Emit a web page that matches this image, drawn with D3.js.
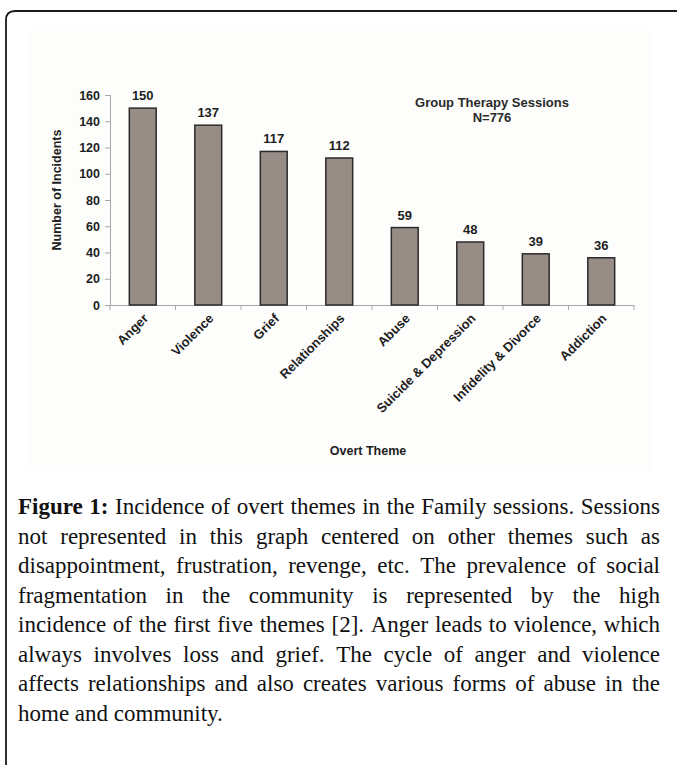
<!DOCTYPE html>
<html>
<head>
<meta charset="utf-8">
<script src="https://cdn.jsdelivr.net/npm/d3@7"></script>
<style>
  html, body { margin: 0; padding: 0; background: #ffffff; }
  svg { display: block; }
</style>
</head>
<body>
<svg id="chart" width="678" height="765"></svg>
<script>
// ---- data ----
const categories = ["Anger", "Violence", "Grief", "Relationships", "Abuse", "Suicide & Depression", "Infidelity & Divorce", "Addiction"];
const values = [150, 137, 117, 112, 59, 48, 39, 36];
const yTicks = [0, 20, 40, 60, 80, 100, 120, 140, 160];
const chartTitle = ["Group Therapy Sessions", "N=776"];
const yTitle = "Number of Incidents";
const xTitle = "Overt Theme";
const captionBold = "Figure 1:";
const captionLines = [
  "Figure 1: Incidence of overt themes in the Family sessions. Sessions",
  "not represented in this graph centered on other themes such as",
  "disappointment, frustration, revenge, etc. The prevalence of social",
  "fragmentation in the community is represented by the high",
  "incidence of the first five themes [2]. Anger leads to violence, which",
  "always involves loss and grief. The cycle of anger and violence",
  "affects relationships and also creates various forms of abuse in the",
  "home and community."
];

const svg = d3.select("#chart");
const sans = "Liberation Sans, Arial, Helvetica, sans-serif";
const serif = "Liberation Serif, Times New Roman, serif";

// frame
svg.append("rect").attr("x", 26).attr("y", 30).attr("width", 626).attr("height", 440).attr("fill", "#fdfdfc");
svg.append("path")
  .attr("d", "M6,765 V20 Q6,11 15,11 H677")
  .attr("fill", "none").attr("stroke", "#1a1a1a").attr("stroke-width", 1.8);

// scales
const x = d3.scaleBand().domain(categories).range([110, 634]).paddingInner(0.59).paddingOuter(0.295);
const y = d3.scaleLinear().domain([0, 160]).range([305, 95]);

// y axis
const yAxis = d3.axisLeft(y).tickValues(yTicks).tickSize(5).tickPadding(5);
const gy = svg.append("g").attr("transform", "translate(110,0)").call(yAxis);
gy.select(".domain").attr("stroke", "#a8a8a8").attr("stroke-width", 1);
gy.selectAll(".tick line").attr("stroke", "#a8a8a8");
gy.selectAll(".tick text").attr("font-family", sans).attr("font-weight", "bold").attr("font-size", 12.5).attr("fill", "#1e1e1e");

// x axis (band boundaries ticks)
const step = x.step();
const xStart = 110;
const boundaries = d3.range(categories.length + 1).map(i => xStart + i * step);
svg.append("line").attr("x1", 110).attr("x2", boundaries[boundaries.length - 1]).attr("y1", 305.5).attr("y2", 305.5)
  .attr("stroke", "#a8a8a8").attr("stroke-width", 1);
svg.selectAll(".xt").data(boundaries).enter().append("line")
  .attr("x1", d => d).attr("x2", d => d).attr("y1", 305).attr("y2", 310)
  .attr("stroke", "#a8a8a8");

// bars
svg.selectAll(".bar").data(values).enter().append("rect")
  .attr("x", (d, i) => x(categories[i]))
  .attr("y", d => y(d))
  .attr("width", x.bandwidth())
  .attr("height", d => y(0) - y(d))
  .attr("fill", "#978c86")
  .attr("stroke", "#2b2b2b")
  .attr("stroke-width", 1.5);

// value labels
svg.selectAll(".val").data(values).enter().append("text")
  .attr("x", (d, i) => x(categories[i]) + x.bandwidth() / 2)
  .attr("y", d => y(d) - 8)
  .attr("text-anchor", "middle")
  .attr("font-family", sans).attr("font-weight", "bold").attr("font-size", 13).attr("fill", "#1e1e1e")
  .text(d => d);

// category labels
svg.selectAll(".cat").data(categories).enter().append("text")
  .attr("transform", d => `translate(${x(d) + x.bandwidth() / 2 + 3},${316}) rotate(-45)`)
  .attr("text-anchor", "end")
  .attr("dy", "0.35em")
  .attr("font-family", sans).attr("font-weight", "bold").attr("font-size", 13).attr("fill", "#1e1e1e")
  .text(d => d);

// titles
svg.append("text").attr("x", 492).attr("y", 107).attr("text-anchor", "middle")
  .attr("font-family", sans).attr("font-weight", "bold").attr("font-size", 13).attr("fill", "#2a2a2a")
  .text(chartTitle[0]);
svg.append("text").attr("x", 492).attr("y", 122).attr("text-anchor", "middle")
  .attr("font-family", sans).attr("font-weight", "bold").attr("font-size", 13).attr("fill", "#2a2a2a")
  .text(chartTitle[1]);
svg.append("text").attr("transform", "translate(61,190) rotate(-90)").attr("text-anchor", "middle")
  .attr("font-family", sans).attr("font-weight", "bold").attr("font-size", 12.5).attr("fill", "#1e1e1e")
  .text(yTitle);
svg.append("text").attr("x", 368).attr("y", 455).attr("text-anchor", "middle")
  .attr("font-family", sans).attr("font-weight", "bold").attr("font-size", 12.5).attr("fill", "#1e1e1e")
  .text(xTitle);

// caption with justification
const left = 18, right = 660, base0 = 514, lh = 29.5, fs = 23;
const boldWords = captionBold.split(" ");
captionLines.forEach((line, li) => {
  const words = line.split(" ");
  const g = svg.append("g");
  const nodes = words.map((w, wi) => {
    const isBold = li === 0 && wi < boldWords.length;
    return g.append("text")
      .attr("y", base0 + li * lh)
      .attr("font-family", serif)
      .attr("font-size", fs)
      .attr("font-weight", isBold ? "bold" : "normal")
      .attr("fill", "#111")
      .text(w);
  });
  const widths = nodes.map(n => n.node().getComputedTextLength());
  const total = d3.sum(widths);
  const last = li === captionLines.length - 1;
  let gap = last ? fs * 0.25 : (right - left - total) / (words.length - 1);
  let cx = left;
  nodes.forEach((n, i) => { n.attr("x", cx); cx += widths[i] + gap; });
});
</script>
</body>
</html>
